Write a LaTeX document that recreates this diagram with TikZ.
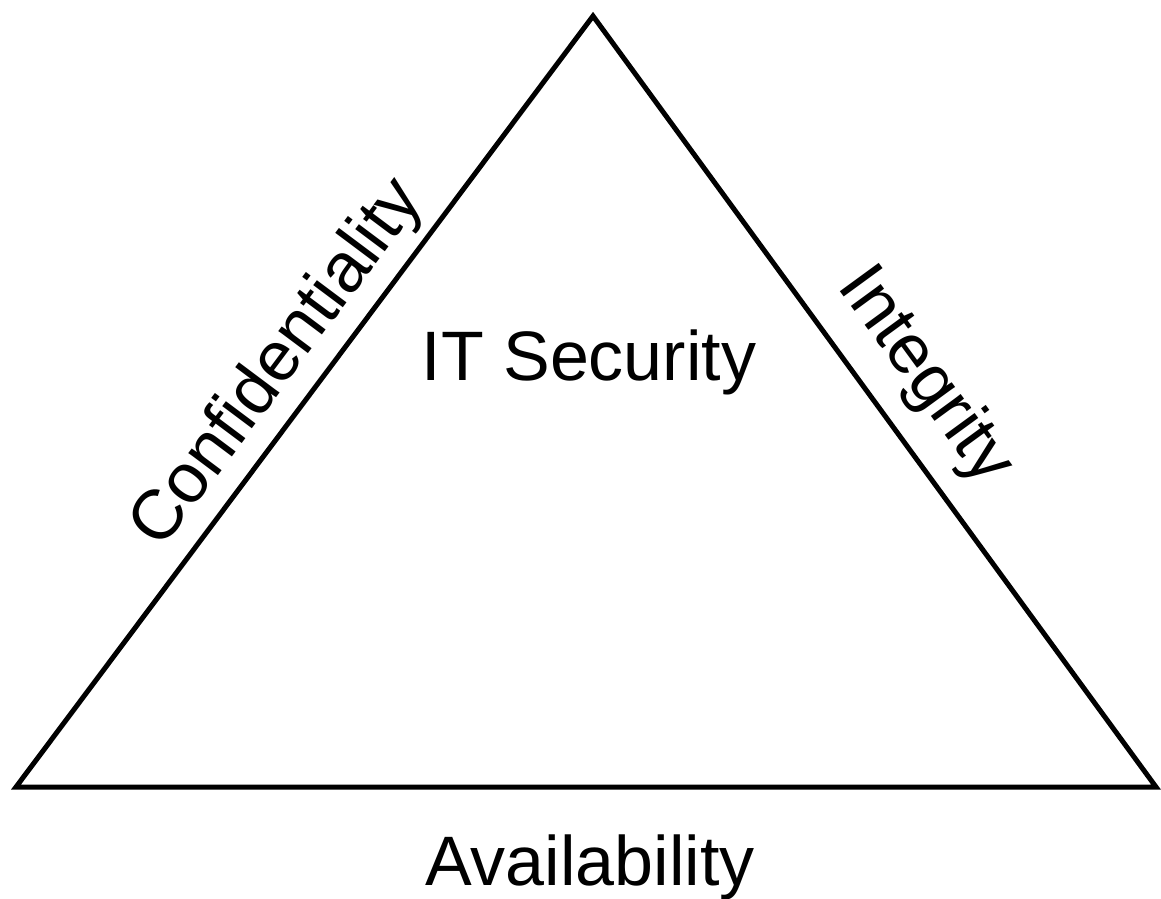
\documentclass[tikz,border=0pt]{standalone}
\usepackage{fontspec}
\setmainfont{Liberation Sans}
\begin{document}
\begin{tikzpicture}[x=1pt, y=-1pt]
\useasboundingbox (0,0) rectangle (1161,898);

\tikzset{every node/.style={font=\fontsize{70}{84}\selectfont, inner sep=8pt}}
\coordinate (top) at (593,16);
\coordinate (left) at (16,787);
\coordinate (right) at (1156,787);

\tikzset{side/.style={line width=5pt, line join=miter}};
\draw [side] (left) -- node [sloped, above, pos=0.515] (conf) {Confidentiality} (top)
  -- node [sloped, above, pos=0.51, inner sep=20pt] (integ) {Integrity} (right) -- cycle;

\node [anchor=base] (sec) at (589,380) {IT Security};
\node [anchor=base] (avail) at (590,885) {Availability};
\end{tikzpicture}
\end{document}
